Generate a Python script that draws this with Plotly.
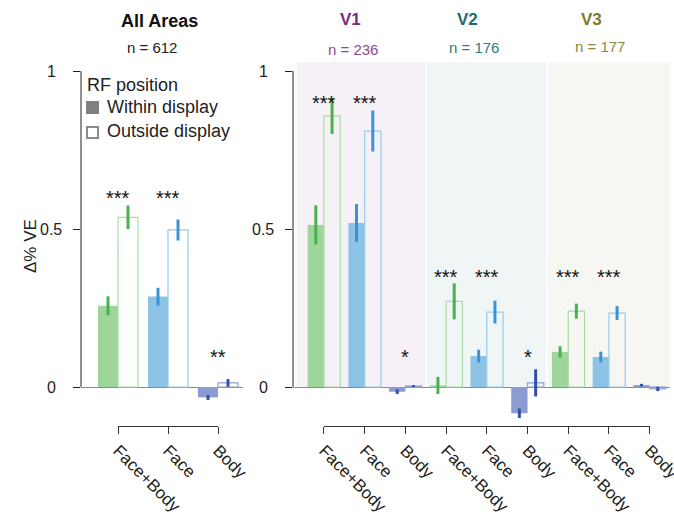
import plotly.graph_objects as go

# ---------------- data ----------------
categories = ["Face+Body", "Face", "Body"]
areas = ["V1", "V2", "V3"]
area_n = [236, 176, 177]
all_n = 612

all_within = [0.257, 0.286, -0.033]
all_within_err = [0.030, 0.028, 0.008]
all_outside = [0.537, 0.497, 0.013]
all_outside_err = [0.037, 0.033, 0.012]
all_sig = ["***", "***", "**"]
all_sig_y = [0.614, 0.614, 0.112]

# V1 (FB, Face, Body), V2 (...), V3 (...)
area_within = [0.513, 0.519, -0.015, 0.005, 0.098, -0.083, 0.111, 0.095, 0.006]
area_within_err = [0.062, 0.060, 0.007, 0.027, 0.020, 0.015, 0.018, 0.017, 0.004]
area_outside = [0.858, 0.810, 0.003, 0.271, 0.237, 0.013, 0.240, 0.234, -0.006]
area_outside_err = [0.057, 0.065, 0.003, 0.057, 0.036, 0.043, 0.024, 0.022, 0.007]
area_sig = ["***", "***", "*", "***", "***", "*", "***", "***", ""]
area_sig_y = [0.914, 0.914, 0.112, 0.365, 0.365, 0.112, 0.365, 0.365, 0.112]

ytick_vals = [0, 0.5, 1]
ytick_text = ["0", "0.5", "1"]

# ---------------- style ----------------
FONT = "Liberation Sans, Arial, Helvetica, sans-serif"
fill_col = {"Face+Body": "#9dd59a", "Face": "#8dc4e6", "Body": "#8c9cd2"}
err_col = {"Face+Body": "#4cb050", "Face": "#3a93d9", "Body": "#3350a8"}
edge_col = {"Face+Body": "#a7dca4", "Face": "#98cbec", "Body": "#8fa0d6"}
area_title_col = ["#7b2a80", "#1e6b6b", "#7a7d2e"]
area_n_col = ["#8d4a91", "#2f7a7a", "#868a3e"]
shade_col = ["#f6f1f6", "#eff6f5", "#f6f7f2"]
shade_bounds = [(-0.66, 2.5), (2.53, 5.45), (5.5, 8.5)]

W, H = 674, 523


def px_x(p):
    return p / W


def px_y(p):
    return 1 - p / H


BW = 0.4
fig = go.Figure()


def add_bars(xax, yax, centers, within, within_err, outside, outside_err, cats):
    for c in categories:
        idx = [i for i, k in enumerate(cats) if k == c]
        xs = [centers[i] for i in idx]
        fig.add_trace(go.Bar(
            x=[v - BW / 2 for v in xs], y=[within[i] for i in idx], width=BW,
            marker=dict(color=fill_col[c], line=dict(width=0)),
            error_y=dict(type="data", array=[within_err[i] for i in idx],
                         color=err_col[c], thickness=3, width=0),
            xaxis=xax, yaxis=yax, showlegend=False, hoverinfo="skip"))
        fig.add_trace(go.Bar(
            x=[v + BW / 2 for v in xs], y=[outside[i] for i in idx], width=BW,
            marker=dict(color="rgba(255,255,255,0)", line=dict(width=1.2, color=edge_col[c])),
            error_y=dict(type="data", array=[outside_err[i] for i in idx],
                         color=err_col[c], thickness=3, width=0),
            xaxis=xax, yaxis=yax, showlegend=False, hoverinfo="skip"))


left_centers = list(range(len(categories)))
right_cats = [categories[i % 3] for i in range(len(area_within))]
right_centers = list(range(len(area_within)))

add_bars("x", "y", left_centers, all_within, all_within_err, all_outside, all_outside_err, categories)
add_bars("x2", "y2", right_centers, area_within, area_within_err, area_outside, area_outside_err, right_cats)

# dummy traces for the category-label axes
fig.add_trace(go.Scatter(x=[0, len(categories) - 1], y=[None, None], xaxis="x3", yaxis="y3",
                         showlegend=False, hoverinfo="skip", mode="markers"))
fig.add_trace(go.Scatter(x=[0, len(right_cats) - 1], y=[None, None], xaxis="x4", yaxis="y4",
                         showlegend=False, hoverinfo="skip", mode="markers"))

yrange = [-0.12, 1.04]
# value 0 at 387px, value 1 at 71px
ydom = [px_y(387 - yrange[0] * 316), px_y(387 - yrange[1] * 316)]

left_dom, left_rng = [px_x(81), px_x(243)], [-0.74, 2.5]
right_dom, right_rng = [px_x(293), px_x(670)], [-0.76, 8.5]


def sub_domain(dom, rng, a, b):
    f = lambda v: dom[0] + (v - rng[0]) / (rng[1] - rng[0]) * (dom[1] - dom[0])
    return [f(a), f(b)]


yax_common = dict(range=yrange, domain=ydom, showgrid=False, zeroline=True,
                  zerolinecolor="#8a8a8a", zerolinewidth=1, showline=False,
                  ticks="outside", ticklen=7, tickwidth=1, tickcolor="#222",
                  tickvals=ytick_vals, showticklabels=False, fixedrange=True,
                  automargin=False)

tick_axis = dict(anchor="free", position=px_y(426), showline=True, linecolor="#333",
                 linewidth=1, ticks="outside", ticklen=7, tickcolor="#333", tickangle=45,
                 showgrid=False, zeroline=False, automargin=False,
                 ticklabeloverflow="allow",
                 tickfont=dict(size=17, color="#222"))

fig.update_layout(
    width=W, height=H, autosize=False,
    margin=dict(l=0, r=0, t=0, b=0, autoexpand=False),
    paper_bgcolor="white", plot_bgcolor="rgba(0,0,0,0)",
    font=dict(family=FONT, size=16, color="#222"),
    barmode="overlay",
    showlegend=False,
    xaxis=dict(domain=left_dom, range=left_rng, visible=False, anchor="y", automargin=False),
    yaxis=dict(anchor="x", **yax_common),
    xaxis2=dict(domain=right_dom, range=right_rng, visible=False, anchor="y2", automargin=False),
    yaxis2=dict(anchor="x2", **yax_common),
    xaxis3=dict(domain=sub_domain(left_dom, left_rng, 0, len(categories) - 1),
                range=[0, len(categories) - 1], tickvals=left_centers, ticktext=categories,
                **tick_axis),
    yaxis3=dict(domain=ydom, anchor="x3", visible=False, range=yrange, automargin=False),
    xaxis4=dict(domain=sub_domain(right_dom, right_rng, 0, len(right_cats) - 1),
                range=[0, len(right_cats) - 1], tickvals=right_centers, ticktext=right_cats,
                **tick_axis),
    yaxis4=dict(domain=ydom, anchor="x4", visible=False, range=yrange, automargin=False),
)

shapes = []
# area shading
for (a0, a1), col in zip(shade_bounds, shade_col):
    shapes.append(dict(type="rect", xref="x2", yref="y2", x0=a0, x1=a1, y0=0, y1=1.028,
                       fillcolor=col, line=dict(width=0), layer="below"))
# y spines (0..1)
for xp, yr in [(81, "y"), (293, "y2")]:
    shapes.append(dict(type="line", xref="paper", yref=yr, x0=px_x(xp), x1=px_x(xp),
                       y0=0, y1=1, line=dict(color="#222", width=1)))
# legend swatches
shapes.append(dict(type="rect", xref="paper", yref="paper", x0=px_x(86), x1=px_x(99),
                   y0=px_y(114), y1=px_y(101), fillcolor="#808080", line=dict(width=0)))
shapes.append(dict(type="rect", xref="paper", yref="paper", x0=px_x(87), x1=px_x(98),
                   y0=px_y(138), y1=px_y(127), fillcolor="white",
                   line=dict(color="#8a8a8a", width=2)))
fig.update_layout(shapes=shapes)

ann = []


def txt(x, y, text, size, color, xanchor="center", **kw):
    ann.append(dict(x=px_x(x), y=px_y(y), xref="paper", yref="paper", text=text,
                    showarrow=False, xanchor=xanchor, yanchor="middle",
                    font=dict(size=size, color=color), **kw))


# y tick labels
for xc, yr in [(51, "y"), (263, "y2")]:
    for v, t in zip(ytick_vals, ytick_text):
        ann.append(dict(x=px_x(xc), y=v, xref="paper", yref=yr, text=t, showarrow=False,
                        xanchor="center", yanchor="middle", font=dict(size=16, color="#222")))
# y title
txt(30, 246, "Δ% VE", 17, "#222", textangle=-90)
# significance stars
for xc, s, yv in zip(left_centers, all_sig, all_sig_y):
    if s:
        ann.append(dict(x=xc, y=yv, xref="x", yref="y", text=s, showarrow=False,
                        xanchor="center", yanchor="middle", yshift=-5,
                        font=dict(size=20, color="#111")))
for xc, s, yv in zip(right_centers, area_sig, area_sig_y):
    if s:
        ann.append(dict(x=xc, y=yv, xref="x2", yref="y2", text=s, showarrow=False,
                        xanchor="center", yanchor="middle", yshift=-5,
                        font=dict(size=20, color="#111")))
# titles
txt(159, 21, "<b>All Areas</b>", 18, "#111")
txt(152, 48, f"n = {all_n}", 15, "#222")
title_x = [350, 467, 591]
n_x = [353, 474, 600]
n_y = [49, 48, 46]
for a, tx, nx, ny, tc, nc, nn in zip(areas, title_x, n_x, n_y, area_title_col, area_n_col, area_n):
    txt(tx, 20, f"<b>{a}</b>", 17, tc)
    txt(nx, ny, f"n = {nn}", 15, nc)
# legend text
txt(85, 85, "RF position", 18, "#222", xanchor="left")
txt(105, 107, "Within display", 18, "#222", xanchor="left")
txt(105, 131, "Outside display", 18, "#222", xanchor="left")
fig.update_layout(annotations=ann)

fig.write_html(
    "out.html",
    config={"responsive": False, "displayModeBar": False},
    post_script="document.documentElement.style.overflow='hidden';"
                "document.body.style.margin='0';document.body.style.overflow='hidden';",
)
